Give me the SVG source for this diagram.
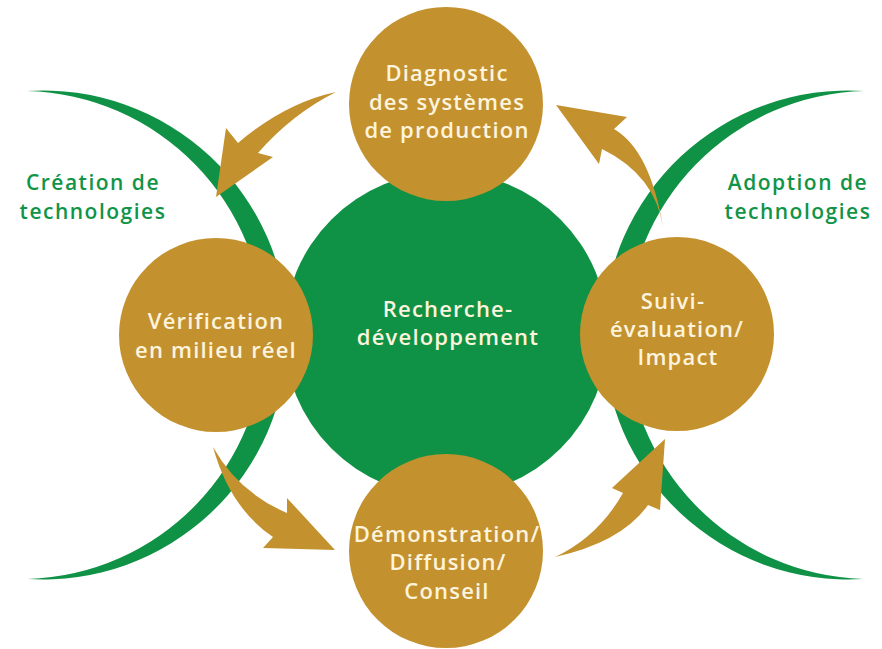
<svg xmlns="http://www.w3.org/2000/svg" width="882" height="649" viewBox="0 0 882 649">
  <style>
    .band { fill: #0F9245; }
    .core { fill: #0F9245; }
    .stage { fill: #C4912F; }
    .flow { fill: #C4912F; }
    .inner { font-family: "Open Sans", "Liberation Sans", sans-serif; font-size: 22px; font-weight: 600; letter-spacing: 1.2px; fill: #FCF4DD; text-anchor: middle; }
    .side { font-family: "Open Sans", "Liberation Sans", sans-serif; font-size: 21px; font-weight: 600; letter-spacing: 1.5px; fill: #119447; text-anchor: middle; }
  </style>
  <rect width="882" height="649" fill="#FFFFFF"/>

  <!-- crescent bands behind the cycle -->
  <g id="bands">
    <path id="band-left" class="band" d="M27,91 A244.5,244.5 0 1 1 28,579 A244.1,244.1 0 0 0 27,91 Z"/>
    <path id="band-right" class="band" transform="translate(891,0) scale(-1,1)" d="M27,91 A244.5,244.5 0 1 1 28,579 A244.1,244.1 0 0 0 27,91 Z"/>
  </g>

  <g id="labels">
    <text class="side" x="93" y="190">Création de</text>
    <text class="side" x="93" y="219">technologies</text>
    <text class="side" x="798" y="190">Adoption de</text>
    <text class="side" x="798" y="219">technologies</text>
  </g>

  <g id="recherche">
    <circle class="core" cx="446" cy="334" r="162"/>
    <text class="inner" x="448" y="317">Recherche-</text>
    <text class="inner" x="448" y="345">développement</text>
  </g>

  <g id="diagnostic">
    <circle class="stage" cx="446" cy="104" r="97"/>
    <text class="inner" x="447" y="81">Diagnostic</text>
    <text class="inner" x="447" y="110">des systèmes</text>
    <text class="inner" x="447" y="138">de production</text>
  </g>

  <g id="verification">
    <circle class="stage" cx="216" cy="335" r="97"/>
    <text class="inner" x="216" y="329">Vérification</text>
    <text class="inner" x="216" y="358">en milieu réel</text>
  </g>

  <g id="suivi">
    <circle class="stage" cx="677" cy="334" r="97"/>
    <text class="inner" x="673" y="309">Suivi-</text>
    <text class="inner" x="677" y="337">évaluation/</text>
    <text class="inner" x="678" y="365">Impact</text>
  </g>

  <g id="demonstration">
    <circle class="stage" cx="446" cy="551" r="97"/>
    <text class="inner" x="447" y="542">Démonstration/</text>
    <text class="inner" x="448" y="570">Diffusion/</text>
    <text class="inner" x="447" y="599">Conseil</text>
  </g>

  <!-- curved arrows linking the stages -->
  <g id="connectors">
    <path id="arrow-diag-verif" class="flow" d="M336,92 Q285,103 238,143 L226,128 L216,197 L273,157 L258,153 Q292,114 336,92 Z"/>
    <path id="arrow-verif-demo" class="flow" d="M213,447 Q238,492 287,513 L287,498 L335,550 L263,548 L273,537 Q230,508 213,447 Z"/>
    <path id="arrow-demo-suivi" class="flow" d="M555,557 Q598,537 623,493 L612,488 L665,439 L660,510 L648,505 Q622,542 555,557 Z"/>
    <path id="arrow-suivi-diag" class="flow" d="M663,227 Q655,175 602,149 L599,164 L556,105 L627,117 L614,129 Q650,150 663,227 Z"/>
  </g>
</svg>
